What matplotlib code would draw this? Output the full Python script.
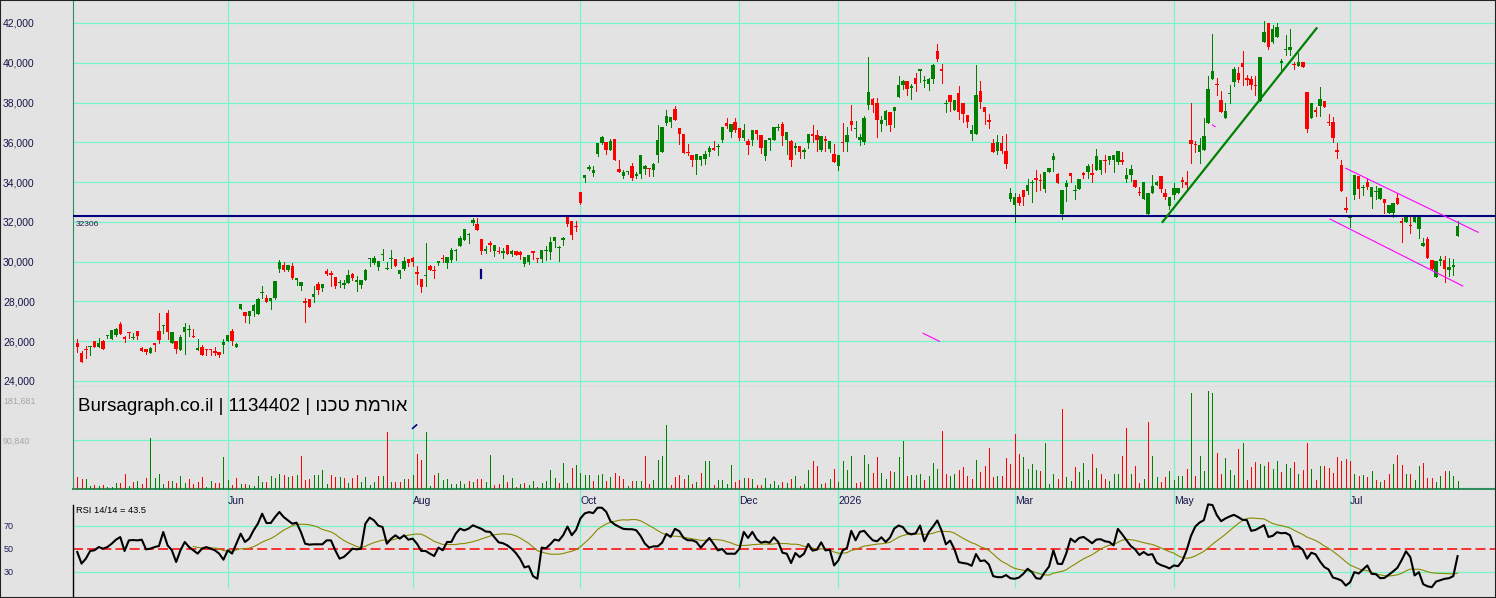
import numpy as np
import pandas as pd
import matplotlib
matplotlib.use("Agg")
import matplotlib.pyplot as plt
from matplotlib.patches import Rectangle

# daily candles, one entry per trading day
opens = [
    25930, 25400, 25630, 25730, 26000, 25730, 26030, 26270, 26130, 26300,
    26890, 26230, 26450, 26170, 26500, 25660, 25630, 25400, 25900, 26500,
    26780, 27400, 25900, 26000, 25560, 26450, 26580, 26250, 25560, 25730,
    25630, 25600, 25500, 25460, 25800, 26000, 26530, 25730, 27630, 27460,
    27260, 27500, 27360, 28430, 28150, 28000, 28150, 29630, 29830, 29600,
    29800, 29060, 28760, 28030, 28100, 28200, 28900, 28660, 29530, 29430,
    29230, 28930, 28830, 28930, 29360, 28990, 28830, 29060, 30150, 29930,
    29730, 30350, 29660, 30140, 30140, 29360, 29630, 30130, 30170, 29500,
    29130, 29280, 29800, 29560, 29930, 30170, 29930, 30060, 30550, 30770,
    31070, 31360, 31940, 31900, 31120, 30550, 30920, 30550, 30550, 30450,
    30820, 30380, 30520, 30500, 29880, 29980, 30520, 30180, 30120, 30520,
    30480, 31020, 30700, 31130, 32290, 32020, 31790, 33520, 34220, 34700,
    34450, 35390, 35960, 36030, 35630, 36160, 34650, 34290, 34490, 34820,
    34350, 34390, 34660, 34720, 34620, 35360, 35530, 36990, 37030, 37700,
    36730, 36400, 35530, 35360, 35090, 35130, 35160, 35530, 35730, 35760,
    36130, 36960, 36530, 37030, 36730, 36200, 36060, 36130, 36630, 36360,
    35330, 36100, 36100, 36740, 36930, 36100, 36060, 35700, 35830, 35490,
    35990, 36430, 36360, 35600, 36170, 35670, 35400, 34800, 36000, 36000,
    37070, 36690, 36100, 36030, 37870, 38170, 37970, 36940, 37140, 37500,
    37600, 38270, 38870, 39070, 38710, 39210, 39570, 39100, 38910, 39170,
    40580, 39670, 37950, 38400, 37640, 38470, 37970, 37370, 36400, 36430,
    38600, 37800, 37140, 35970, 35570, 35970, 35570, 33160, 32860, 33260,
    33600, 33560, 33990, 34200, 34130, 33630, 34500, 35130, 34400, 32390,
    33730, 34460, 33580, 33630, 34430, 34530, 34430, 34630, 34630, 35130,
    35130, 35130, 35030, 35100, 34160, 34360, 34100, 33500, 33160, 32410,
    33460, 33830, 34300, 33460, 32800, 33330, 33430, 34100, 34030, 36100,
    35900, 35530, 35630, 36970, 39170, 38940, 38140, 37240, 38440, 39040,
    39510, 39970, 39210, 39170, 38870, 38100, 41040, 41980, 41040, 41310,
    40030, 40640, 40640, 39940, 39840, 40040, 38540, 37240, 37600, 37840,
    38100, 37000, 37000, 35600, 34860, 32690, 32190, 33360, 34300, 33700,
    34030, 33260, 33500, 33130, 33130, 32460, 32430, 33190, 32060, 31990,
    31860, 31990, 31660, 30790, 31160, 30090, 29220, 30060, 30090, 29590,
    29780, 31290,
]
highs = [
    26100, 25500, 25770, 25760, 26000, 26170, 26060, 26300, 26550, 26650,
    26950, 26270, 26450, 26400, 26500, 25730, 25630, 25730, 25930, 27400,
    26820, 27570, 26470, 26000, 26300, 26920, 26800, 26600, 26100, 25800,
    25630, 25600, 25730, 25460, 26130, 26300, 26600, 25930, 27850, 27460,
    27500, 27850, 28150, 28800, 28300, 28150, 29030, 30100, 30000, 29830,
    29930, 29200, 29000, 28160, 28100, 28800, 29000, 28900, 29630, 29530,
    29230, 29060, 29060, 29600, 29430, 29260, 29060, 29630, 30170, 30300,
    30030, 30640, 30000, 30570, 30140, 29600, 30230, 30130, 30230, 29760,
    29130, 30940, 29830, 29800, 30030, 30330, 30230, 30700, 30640, 31300,
    31640, 31440, 32180, 32180, 31120, 30800, 31020, 30820, 30750, 30680,
    30820, 30580, 30520, 30520, 30220, 30320, 30520, 30180, 30580, 30780,
    31220, 31220, 30780, 31220, 32290, 32020, 32020, 33520, 34350, 34850,
    34820, 35960, 36330, 36030, 36160, 36160, 35090, 34590, 34550, 34950,
    34490, 35360, 34850, 34720, 34950, 36860, 36760, 37630, 37260, 37830,
    36730, 36400, 35930, 35360, 35430, 35330, 35560, 35830, 36060, 35930,
    36760, 37230, 36900, 37230, 36730, 36900, 36160, 36600, 36630, 36360,
    36100, 36200, 36760, 36900, 37030, 36530, 36130, 35960, 35830, 35730,
    36430, 36860, 36600, 36330, 36330, 36070, 35900, 35370, 36970, 36770,
    37870, 37070, 36400, 37300, 40280, 38240, 38240, 37340, 37640, 37540,
    37770, 39310, 39110, 39070, 38940, 39510, 39710, 39340, 39240, 39940,
    40940, 39940, 38140, 38400, 38140, 38810, 37970, 37370, 36870, 39910,
    39100, 37800, 37400, 36170, 36370, 36300, 36400, 33700, 33460, 33390,
    33600, 34160, 34130, 34600, 34400, 34500, 34700, 35470, 34460, 33600,
    34130, 34460, 33860, 34160, 34500, 34900, 34930, 35670, 35100, 35370,
    35330, 35370, 35570, 35500, 34700, 34860, 34100, 33730, 34030, 33460,
    34360, 34060, 34300, 33630, 33230, 33960, 33700, 34260, 34560, 37970,
    36070, 36200, 37240, 39310, 41440, 39240, 38600, 37970, 38870, 39770,
    39770, 40580, 39410, 39340, 39310, 40280, 42110, 42010, 41910, 42010,
    40180, 41380, 41680, 40040, 40510, 40040, 38540, 38000, 37800, 38770,
    38100, 37400, 37270, 35970, 35100, 33260, 32330, 34360, 34300, 33860,
    34200, 33760, 33800, 33700, 33130, 32830, 32960, 33460, 32190, 32330,
    32290, 32330, 32230, 31190, 31220, 30090, 30020, 30290, 30290, 30160,
    30120, 32030,
]
lows = [
    25450, 24930, 25150, 25300, 25730, 25730, 25630, 26150, 26100, 26250,
    26350, 25960, 26170, 26100, 26100, 25500, 25380, 25400, 25500, 25930,
    26420, 26100, 25900, 25400, 25560, 25350, 26250, 26220, 25560, 25330,
    25300, 25300, 25300, 25200, 25400, 26000, 25800, 25700, 27600, 26950,
    26920, 27250, 27360, 28150, 27960, 27620, 28100, 29500, 29550, 29550,
    29130, 28830, 28560, 26950, 27730, 27990, 28360, 28550, 29330, 28800,
    28660, 28730, 28700, 28930, 29060, 28530, 28700, 29060, 29760, 29900,
    29560, 30100, 29630, 29660, 29760, 29200, 29560, 29760, 29760, 28900,
    28460, 28800, 29560, 29160, 29830, 29960, 29660, 30000, 30100, 30770,
    31070, 30940, 31840, 31570, 30400, 30450, 30550, 30280, 30420, 30180,
    30380, 30280, 30350, 30150, 29780, 29900, 30120, 29980, 29980, 30080,
    30120, 30750, 30020, 30820, 31790, 31120, 31520, 32890, 34020, 34590,
    34290, 35290, 35900, 35390, 35630, 35090, 34520, 34190, 34420, 34090,
    34220, 34190, 34390, 34290, 34290, 34990, 35530, 36890, 36760, 37130,
    35930, 35460, 35360, 34790, 34420, 34860, 34890, 35330, 35600, 35360,
    36000, 36730, 36290, 36530, 36100, 36130, 35430, 35860, 36160, 35460,
    35090, 35600, 36100, 36630, 35860, 35430, 34790, 35430, 35190, 35190,
    35690, 36000, 35560, 35560, 35570, 35500, 35030, 34600, 35570, 35570,
    36600, 36270, 35870, 35930, 37670, 37500, 36270, 36570, 36870, 36570,
    36770, 38270, 38670, 38400, 38170, 38570, 39040, 38800, 38640, 38970,
    40080, 38970, 37500, 37570, 37640, 37170, 37040, 36770, 36130, 36430,
    37740, 36940, 36730, 35500, 35430, 35470, 34730, 33030, 31990, 32830,
    32860, 33390, 32990, 33560, 33600, 33500, 34500, 34560, 33930, 32130,
    33060, 34000, 33160, 33630, 34200, 34230, 34000, 34630, 34400, 34500,
    34900, 34530, 34930, 34930, 34000, 34060, 33730, 33330, 33160, 32410,
    33460, 33830, 33500, 33130, 32630, 33160, 33430, 33730, 33600, 34960,
    35500, 34960, 35630, 36970, 39170, 38370, 37540, 37240, 38000, 38840,
    39010, 38870, 38870, 38670, 38370, 38100, 41040, 40710, 40980, 41310,
    39540, 40410, 40380, 39710, 39840, 39770, 36530, 37240, 37300, 37340,
    37800, 36870, 36030, 35230, 33560, 32490, 31730, 33130, 33200, 33360,
    33630, 32690, 33130, 33130, 32430, 32460, 32230, 32890, 30990, 31990,
    31420, 31990, 31190, 30790, 30190, 29650, 29220, 29820, 28990, 29290,
    29350, 31290,
]
closes = [
    25730, 24930, 25560, 25760, 25730, 25930, 25630, 26300, 26550, 26620,
    26350, 26130, 26420, 26200, 26270, 25500, 25460, 25660, 25830, 26070,
    26800, 26470, 26470, 25600, 26200, 26690, 26600, 26220, 25660, 25330,
    25560, 25560, 25430, 25330, 25970, 26300, 26030, 25860, 27850, 27260,
    27500, 27820, 28100, 28460, 27960, 28150, 29030, 29970, 29560, 29830,
    29200, 29200, 29000, 27930, 27730, 28360, 28560, 28860, 29400, 29330,
    28800, 29000, 28930, 29330, 29200, 29060, 29060, 29560, 30170, 30200,
    30030, 30370, 29680, 30170, 29760, 29600, 30030, 29930, 30000, 29400,
    28730, 29300, 29560, 29530, 30030, 30130, 30230, 30570, 30570, 31170,
    31640, 31370, 32070, 31570, 30520, 30650, 30850, 30820, 30480, 30520,
    30380, 30520, 30350, 30350, 30220, 30320, 30450, 30120, 30580, 30580,
    30980, 31220, 30720, 31150, 31890, 31320, 31720, 32960, 34350, 34720,
    34590, 35960, 36260, 35630, 36060, 35090, 34520, 34490, 34550, 34190,
    34360, 35360, 34820, 34660, 34920, 36130, 36760, 37330, 37260, 37130,
    36400, 35460, 35460, 35090, 35430, 35330, 35430, 35730, 35600, 35830,
    36760, 36830, 36900, 36600, 36200, 36630, 35890, 36600, 36400, 35700,
    36100, 36200, 36760, 36760, 36330, 36530, 35130, 35830, 35490, 35590,
    36430, 36330, 36100, 36330, 36070, 36070, 35030, 35370, 35970, 36370,
    36870, 36700, 36270, 37240, 38540, 37870, 37140, 37140, 37570, 36870,
    37770, 38870, 39070, 38670, 38810, 38940, 39710, 39110, 39170, 39870,
    40210, 39570, 37970, 38040, 38140, 37500, 37400, 37040, 36600, 38370,
    38040, 37540, 37040, 35500, 36000, 35570, 34930, 33430, 33260, 32960,
    33230, 33860, 34000, 34130, 34060, 34500, 34700, 35300, 33930, 33600,
    33960, 34330, 33600, 34160, 34400, 34830, 34400, 35300, 35100, 35070,
    35330, 35370, 35570, 35030, 34360, 34660, 33730, 33430, 34030, 33460,
    33800, 34030, 33630, 33230, 33230, 33700, 33700, 34000, 33830, 35930,
    35870, 35870, 36300, 38670, 39570, 38870, 37540, 37600, 38500, 39710,
    39140, 39770, 39110, 38870, 38840, 40280, 41540, 40810, 41710, 41810,
    40040, 40710, 40810, 39870, 40040, 39770, 36670, 37970, 37570, 38170,
    37800, 36970, 36230, 35500, 33560, 32590, 32330, 34360, 33630, 33770,
    33760, 33760, 33560, 33700, 32930, 32830, 32960, 32890, 31960, 32260,
    31790, 32230, 32230, 30960, 30190, 29650, 30020, 30090, 29620, 29720,
    29790, 31790,
]
volumes = [
    22400, 18000, 18700, 5600, 7500, 5600, 6800, 4400, 3700, 11200,
    11200, 28000, 5600, 13700, 14900, 10000, 21100, 95200, 20500, 27400,
    9300, 14900, 14900, 11800, 24300, 11800, 18000, 10000, 13100, 22400,
    4400, 14900, 11200, 11200, 59700, 16800, 7500, 20500, 10000, 10000,
    7500, 5600, 24300, 12400, 13100, 23600, 19900, 27400, 26100, 22400,
    24300, 25500, 61600, 17400, 18700, 26100, 26100, 35500, 9300, 26100,
    22400, 21800, 21100, 11200, 19900, 26100, 13700, 21800, 6800, 13700,
    24300, 24300, 106000, 13700, 13700, 13700, 18700, 18700, 25500, 65300,
    54100, 105000, 5600, 26100, 29900, 16800, 18700, 8700, 8700, 14900,
    8700, 14900, 12400, 18700, 19200, 13600, 63700, 8000, 9900, 26600,
    13600, 21000, 4300, 9900, 11700, 8000, 15500, 4300, 11700, 15500,
    35800, 21000, 11700, 48800, 11700, 39600, 45100, 30300, 26600, 26600,
    15500, 26600, 28400, 15500, 22900, 30300, 24700, 19200, 6200, 15500,
    15500, 15500, 61800, 9900, 17300, 54400, 61800, 119300, 8000, 22900,
    26600, 19200, 26600, 9900, 13600, 30300, 52500, 52500, 8000, 17300,
    17300, 9900, 45100, 13600, 17300, 21000, 21000, 19200, 8000, 8000,
    21000, 9900, 15500, 8000, 13600, 11700, 19200, 24700, 6200, 9900,
    35800, 52500, 43300, 9900, 11700, 19200, 37700, 13600, 52500, 35800,
    61800, 11700, 13600, 63700, 47000, 30300, 59900, 30300, 19200, 34000,
    32100, 59900, 89600, 24700, 26600, 26600, 28400, 17300, 24700, 48800,
    37700, 108200, 28400, 24700, 28400, 35800, 41400, 24700, 19200, 54400,
    32100, 43300, 76600, 22900, 24700, 24700, 58100, 47000, 102600, 65500,
    59900, 37700, 47000, 35800, 34000, 85900, 9900, 28400, 19200, 148900,
    22900, 15500, 41400, 32100, 48800, 17300, 65500, 39600, 28400, 19200,
    15500, 28400, 28400, 61800, 113700, 28400, 43300, 11700, 19200, 124800,
    61800, 22900, 13600, 22900, 34000, 17300, 24700, 24700, 37700, 178600,
    24700, 61800, 34000, 181000, 178600, 67400, 28400, 58100, 35800, 26600,
    74800, 85900, 17300, 41400, 50700, 47000, 43300, 50700, 37700, 52500,
    32100, 47000, 39600, 50700, 28400, 35800, 85900, 37700, 17300, 43300,
    43300, 39600, 30300, 59900, 52500, 56200, 52500, 28400, 24700, 26600,
    22900, 34000, 17300, 13600, 17300, 28400, 47000, 63700, 45100, 28400,
    28400, 17300, 43300, 48800, 21000, 21000, 13600, 24700, 34000, 34000,
    24700, 15500,
]
rsi = [
    47.1, 37.0, 41.3, 48.0, 48.6, 51.4, 50.0, 51.4, 54.3, 57.8,
    60.1, 48.0, 57.2, 57.5, 57.2, 57.8, 49.4, 50.0, 51.4, 52.3,
    64.5, 52.9, 48.6, 38.4, 48.6, 55.8, 51.4, 48.6, 45.7, 50.0,
    51.4, 50.0, 48.6, 45.7, 40.4, 48.6, 45.7, 54.3, 63.0, 55.8,
    58.7, 65.9, 71.7, 80.4, 72.3, 72.3, 77.5, 81.9, 77.5, 74.6,
    71.7, 72.6, 64.5, 54.3, 53.5, 53.8, 53.8, 53.8, 57.2, 57.2,
    48.6, 41.3, 42.8, 46.2, 50.0, 49.4, 50.0, 71.7, 77.0, 74.6,
    70.0, 68.8, 54.3, 58.7, 61.6, 58.7, 61.6, 57.8, 58.7, 54.3,
    48.0, 48.0, 45.7, 43.6, 50.9, 48.6, 55.8, 55.8, 63.0, 67.4,
    65.9, 67.4, 70.3, 68.8, 67.2, 64.9, 64.6, 59.9, 55.5, 54.7,
    52.9, 50.0, 46.2, 41.0, 33.7, 34.8, 26.1, 23.8, 50.9, 50.3,
    53.8, 57.9, 57.0, 61.7, 69.2, 61.7, 66.3, 76.2, 80.6, 81.8,
    80.9, 85.6, 85.6, 82.1, 73.9, 71.0, 69.0, 67.2, 66.9, 66.9,
    66.0, 61.1, 54.4, 50.9, 52.0, 52.0, 55.2, 62.8, 60.2, 67.2,
    65.2, 59.3, 57.3, 57.3, 55.8, 50.9, 55.2, 59.3, 54.1, 48.5,
    49.7, 45.6, 45.6, 45.6, 50.0, 64.6, 59.3, 64.6, 58.2, 55.2,
    56.1, 55.2, 59.9, 55.8, 46.5, 45.6, 37.5, 46.2, 42.7, 45.6,
    54.1, 48.3, 49.1, 55.5, 48.5, 49.1, 35.4, 39.8, 48.5, 50.6,
    65.5, 57.3, 64.6, 65.5, 61.1, 57.3, 56.4, 59.9, 55.8, 59.6,
    67.5, 70.1, 68.7, 63.7, 62.5, 63.4, 70.1, 56.4, 64.3, 69.2,
    74.5, 65.7, 53.8, 57.0, 49.4, 38.3, 37.5, 36.9, 35.1, 45.3,
    39.2, 39.8, 36.3, 26.1, 25.2, 25.2, 27.0, 24.3, 23.8, 24.9,
    28.1, 32.5, 29.6, 24.3, 23.8, 29.6, 34.5, 48.5, 36.9, 36.6,
    45.9, 58.7, 55.8, 59.3, 60.2, 57.6, 54.7, 57.9, 58.2, 56.4,
    55.8, 52.9, 67.2, 62.5, 57.3, 52.3, 49.4, 44.5, 47.1, 44.5,
    45.3, 37.8, 35.7, 34.5, 32.8, 35.4, 34.8, 39.5, 48.8, 61.1,
    69.2, 72.7, 74.8, 88.5, 87.9, 79.2, 73.9, 76.2, 78.0, 79.4,
    77.4, 75.1, 74.8, 65.5, 66.3, 68.4, 70.4, 60.2, 61.1, 64.3,
    63.4, 63.7, 61.7, 51.7, 52.0, 49.1, 41.3, 46.5, 45.0, 38.9,
    34.0, 31.9, 24.9, 23.8, 22.3, 17.9, 20.8, 29.6, 28.4, 31.9,
    35.4, 28.1, 27.8, 24.3, 24.6, 27.3, 30.2, 33.4, 40.1, 47.7,
    42.7, 26.7, 29.6, 19.1, 17.3, 16.5, 21.4, 22.6, 23.8, 24.3,
    26.1, 43.5,
]

price_ticks = [24000, 26000, 28000, 30000, 32000, 34000, 36000, 38000, 40000, 42000]
vol_ticks = [90840, 181681]
rsi_ticks = [30, 50, 70]
month_names = ["Jun", "Aug", "Oct", "Dec", "2026", "Mar", "May", "Jul"]
month_bars = [35, 78, 117, 154, 177, 218, 255, 296]
level_line = 32306

# lines drawn by hand on the chart: (bar0, price0, bar1, price1)
green_trend = [252.4, 32000, 288.2, 41734]
channel_up = [295.0, 34694, 325.8, 31477]
channel_dn = [291.3, 32145, 322.2, 28777]
pink_bits = [[196.7, 26398, 200.5, 25996], [264.0, 36872, 264.6, 36787]]
navy_bit = [93.9, 29581, 93.9, 29195]
navy_vol_bit = [78.0, 112500, 78.9, 118700]

title_heb = "אורמת טכנו"
title = "Bursagraph.co.il | 1134402 | " + title_heb[::-1]  # drawn right-to-left

W, H = 1496, 598
BG = "#e3e3e3"
GRID = "#78f5c8"
FRAME = "#2e8e60"
UP = "#008000"
DN = "#ff0000"
LBL = "#15154a"

plt.rcParams["font.family"] = ["Liberation Sans", "DejaVu Sans"]
plt.rcParams["lines.scale_dashes"] = False

fig = plt.figure(figsize=(W / 100, H / 100), dpi=100, facecolor=BG)


def add_panel(top, bottom):
    ax = fig.add_axes([73 / W, 1 - bottom / H, (1495 - 73) / W, (bottom - top) / H], facecolor=BG)
    ax.set_xlim(-0.99, 329.7)
    ax.set_xticks([])
    for s in ax.spines.values():
        s.set_visible(False)
    return ax


ax_p = add_panel(1, 387)
ax_v = add_panel(387, 489)
ax_r = add_panel(490, 598)

idx = np.arange(len(closes))
o = np.array(opens, float)
h = np.array(highs, float)
l = np.array(lows, float)
c = np.array(closes, float)

# ---- price panel ----
ax_p.set_ylim(23698, 43106)
for v in price_ticks:
    ax_p.axhline(v, color=GRID, lw=0.9, zorder=0)
for m in month_bars:
    ax_p.axvline(m, color=GRID, lw=0.9, zorder=0)

up = c >= o
ccol = np.where(up, UP, DN)
ax_p.vlines(idx, l, h, colors=ccol, lw=0.6, antialiased=False, zorder=3)
lo = np.minimum(o, c)
hi = np.maximum(o, c)
mid = (lo + hi) / 2
thin = (hi - lo) < 70
lo = np.where(thin, mid - 35, lo)
hi = np.where(thin, mid + 35, hi)
ax_p.bar(idx, hi - lo, bottom=lo, width=0.8, color=ccol, lw=0, antialiased=False, zorder=3)

ax_p.axhline(level_line, color="#000080", lw=1.5, zorder=4)
ax_p.text(-0.3, 31793, str(level_line), fontsize=6, color="#202050", va="baseline", ha="left")

ax_p.plot(green_trend[0::2], green_trend[1::2], color=UP, lw=1.6, zorder=5)
for seg in [channel_up, channel_dn] + pink_bits:
    ax_p.plot(seg[0::2], seg[1::2], color="#ff00ff", lw=0.8, zorder=5)
ax_p.plot(navy_bit[0::2], navy_bit[1::2], color="#000080", lw=1.6, zorder=5)

ax_p.spines["left"].set_visible(True)
ax_p.spines["left"].set_color(FRAME)
ax_p.spines["bottom"].set_visible(True)
ax_p.spines["bottom"].set_color(FRAME)
ax_p.set_yticks(price_ticks, [f"{v:,}" for v in price_ticks])
ax_p.tick_params(axis="y", length=0, pad=50.4, labelsize=7.5, labelcolor=LBL)
for t in ax_p.get_yticklabels():
    t.set_ha("left")

# ---- volume panel ----
ax_v.set_ylim(0, 189100)
ax_v.axhline(vol_ticks[0], color=GRID, lw=0.9, zorder=0)
for m in month_bars:
    ax_v.axvline(m, color=GRID, lw=0.9, zorder=0)
prev = np.r_[c[0], c[:-1]]
vup = c >= prev
vup[0] = up[0]
ax_v.vlines(idx, 0, volumes, colors=np.where(vup, UP, DN), lw=0.6, antialiased=False, zorder=3)
ax_v.plot(navy_vol_bit[0::2], navy_vol_bit[1::2], color="#000080", lw=1.2, zorder=5)
ax_v.spines["left"].set_visible(True)
ax_v.spines["left"].set_color(FRAME)
ax_v.spines["bottom"].set_visible(True)
ax_v.spines["bottom"].set_color(FRAME)
ax_v.spines["bottom"].set_linewidth(1.5)
ax_v.set_yticks([vol_ticks[0]], [f"{vol_ticks[0]:,}"])
ax_v.tick_params(axis="y", length=0, pad=50.4, labelsize=6.4, labelcolor="#a4a4ae")
for t in ax_v.get_yticklabels():
    t.set_ha("left")
fig.text(3 / W, 1 - 403.5 / H, f"{vol_ticks[1]:,}", fontsize=6.4, color="#a4a4ae", va="baseline", ha="left")
ax_v.text(0.0035, 0.765, title, transform=ax_v.transAxes, fontsize=13.5, color="black",
          va="baseline", ha="left")

# ---- RSI panel ----
ax_r.set_ylim(7.1, 101.0)
for v in (30, 70):
    ax_r.axhline(v, color=GRID, lw=0.9, zorder=0)
for m, name in zip(month_bars, month_names):
    ax_r.axvline(m, ymin=11 / 108, ymax=1, color=GRID, lw=0.9, zorder=0)
    ax_r.text(m, 89, name, fontsize=7.5, color=LBL, va="baseline", ha="left")
ax_r.axhline(50, color=DN, lw=1.1, dashes=(7.2, 3.0), zorder=2)
rsi_ma = pd.Series(rsi).rolling(14).mean()
rsi_ma[:27] = np.nan
ax_r.plot(idx, rsi_ma, color="#8a8a00", lw=0.8, zorder=3)
ax_r.plot(idx, rsi, color="black", lw=1.5, zorder=4)
ax_r.text(-0.3, 81.4, f"RSI 14/14 = {rsi[-1]}", fontsize=6.7, color="black", va="baseline", ha="left")
ax_r.plot([0, 0], [0, 93 / 108], transform=ax_r.transAxes, color="black", lw=1, clip_on=False)
ax_r.set_yticks(rsi_ticks, [str(v) for v in rsi_ticks])
ax_r.tick_params(axis="y", length=0, pad=49.7, labelsize=6.5, labelcolor="#202060")
for t in ax_r.get_yticklabels():
    t.set_ha("left")

fig.add_artist(Rectangle((0, 0), 1, 1, transform=fig.transFigure, fill=False,
                         edgecolor="#222222", lw=1.5))

fig.savefig("out.png", dpi=100, facecolor=BG)
